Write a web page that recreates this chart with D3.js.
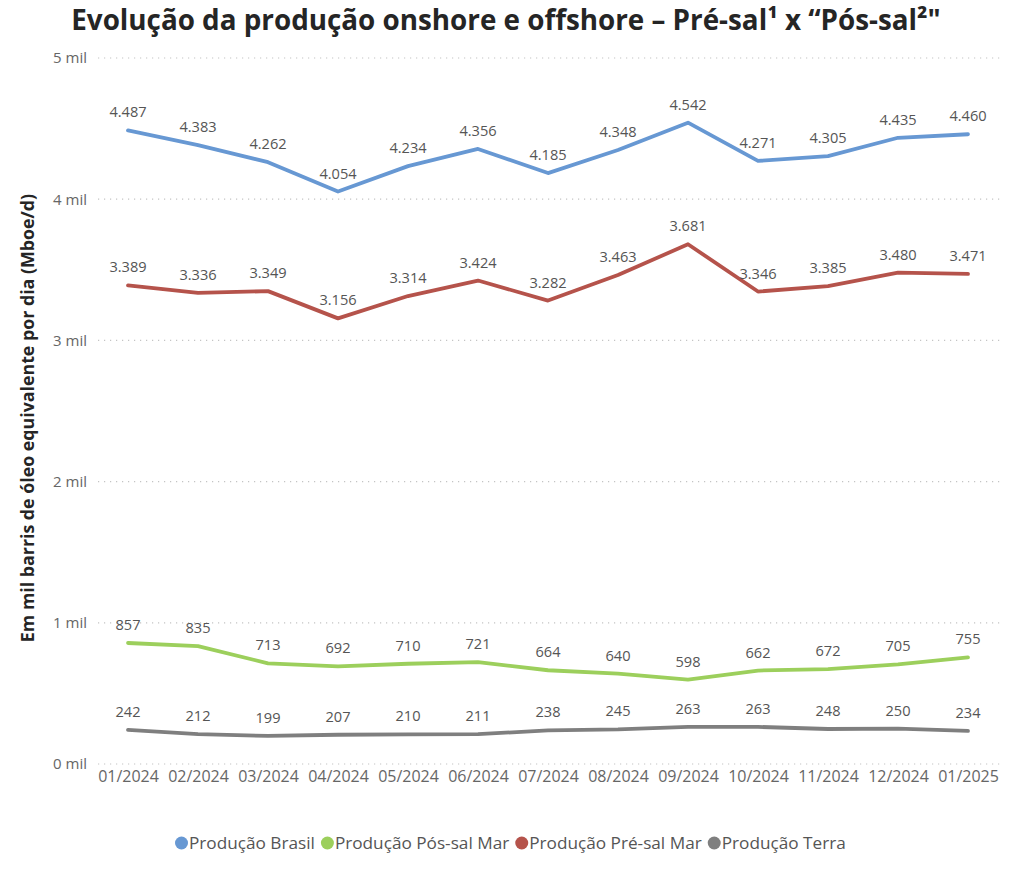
<!DOCTYPE html>
<html><head><meta charset="utf-8">
<script src="https://cdn.jsdelivr.net/npm/d3@7"></script>
<style>body{margin:0;background:#fff;} svg{display:block;font-family:"Open Sans","Noto Sans",sans-serif;}</style>
</head><body>
<svg id="c" width="1010" height="870"></svg>
<script>
const months = ["01/2024","02/2024","03/2024","04/2024","05/2024","06/2024","07/2024","08/2024","09/2024","10/2024","11/2024","12/2024","01/2025"];
const brasil = [4487,4383,4262,4054,4234,4356,4185,4348,4542,4271,4305,4435,4460];
const preSal = [3389,3336,3349,3156,3314,3424,3282,3463,3681,3346,3385,3480,3471];
const posSal = [857,835,713,692,710,721,664,640,598,662,672,705,755];
const terra = [242,212,199,207,210,211,238,245,263,263,248,250,234];
const yTicks = [0,1000,2000,3000,4000,5000];
const seriesNames = ["Produção Brasil","Produção Pós-sal Mar","Produção Pré-sal Mar","Produção Terra"];
const seriesColors = ["#6798d3","#9ccf5c","#b5534b","#7f7f7f"];
const seriesData = [brasil, posSal, preSal, terra];

const svg = d3.select("#c");
const x = d3.scalePoint().domain(months).range([128,968]);
const y = d3.scaleLinear().domain([0,5000]).range([764,58]);

svg.append("text").attr("x",506).attr("y",30).attr("text-anchor","middle")
  .attr("font-size",27.8).attr("font-weight","bold").attr("fill","#252525")
  .text("Evolução da produção onshore e offshore – Pré-sal¹ x “Pós-sal²\"");

// grid
svg.append("g").selectAll("line").data(yTicks).join("line")
  .attr("x1",98).attr("x2",1000).attr("y1",d=>y(d)).attr("y2",d=>y(d))
  .attr("stroke","#c4c4c4").attr("stroke-width",1.2).attr("stroke-dasharray","1.2,4.8");

const yAxis = d3.axisLeft(y).tickValues(yTicks).tickSize(0).tickPadding(0).tickFormat(d=>(d/1000)+" mil");
const gy = svg.append("g").attr("transform","translate(87,0)").call(yAxis);
gy.select(".domain").remove();
gy.selectAll("text").attr("font-size",15).attr("fill","#666").attr("font-family","'Open Sans',sans-serif");

const xAxis = d3.axisBottom(x).tickSize(0).tickPadding(0);
const gx = svg.append("g").attr("transform","translate(0,768)").call(xAxis);
gx.select(".domain").remove();
gx.selectAll("text").attr("font-size",16).attr("fill","#666").attr("dy","0.9em").attr("font-family","'Open Sans',sans-serif");

svg.append("text").attr("transform","translate(34,418) rotate(-90)").attr("text-anchor","middle")
  .attr("font-size",17.8).attr("font-weight","bold").attr("fill","#252525")
  .text("Em mil barris de óleo equivalente por dia (Mboe/d)");

const line = d3.line().x((d,i)=>x(months[i])).y(d=>y(d));
seriesData.forEach((s,k)=>{
  svg.append("path").datum(s).attr("d",line).attr("fill","none")
    .attr("stroke",seriesColors[k]).attr("stroke-width",3.8).attr("stroke-linejoin","round").attr("stroke-linecap","round");
});
const fmt = v => v>=1000 ? d3.format(",")(v).replace(",",".") : String(v);
seriesData.forEach((s,k)=>{
  svg.append("g").selectAll("text").data(s).join("text")
    .attr("x",(d,i)=>x(months[i])).attr("y",d=>y(d)-13)
    .attr("text-anchor","middle").attr("font-size",14.6).attr("fill","#555")
    .text(d=>fmt(d));
});

// legend
const lg = svg.append("g");
let lx = 175;
seriesNames.forEach((n,k)=>{
  lg.append("circle").attr("cx",lx+6.5).attr("cy",843).attr("r",6.5).attr("fill",seriesColors[k]);
  const t = lg.append("text").attr("x",lx+14).attr("y",849).attr("font-size",17.2).attr("fill","#555").text(n);
  lx += 14 + t.node().getComputedTextLength() + 6;
});
</script>
</body></html>
